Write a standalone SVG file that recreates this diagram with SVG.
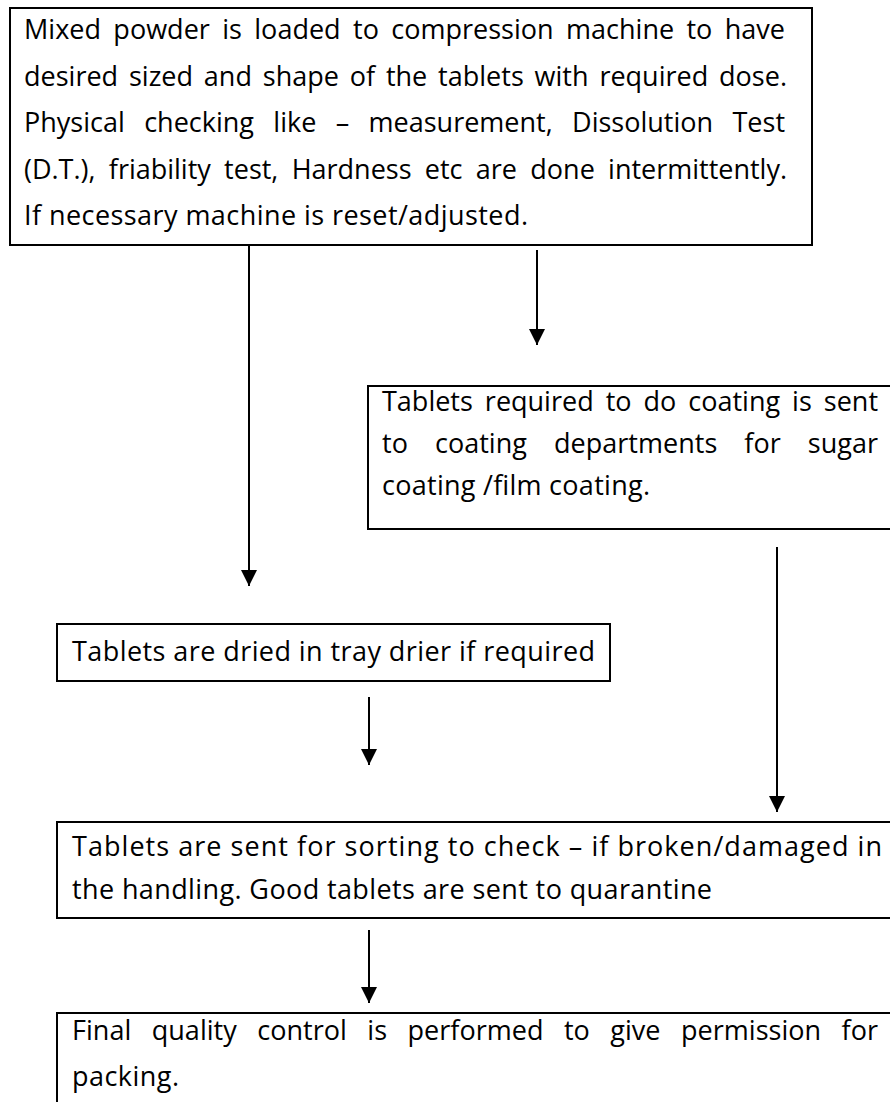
<svg xmlns="http://www.w3.org/2000/svg" width="890" height="1102" viewBox="0 0 890 1102">
  <style>
    .box { fill: #ffffff; stroke: #000000; stroke-width: 2; }
    .t { font-family: "Open Sans", "Liberation Sans", sans-serif; font-size: 27px; fill: #000000; }
    .conn { stroke: #000000; stroke-width: 2; fill: none; }
  </style>
  <defs>
    <marker id="arrow" markerWidth="8" markerHeight="8" refX="8" refY="4" orient="auto" markerUnits="strokeWidth">
      <path d="M0,0 L8,4 L0,8 Z" fill="#000000"/>
    </marker>
  </defs>
  <rect width="890" height="1102" fill="#ffffff"/>

  <g id="connectors">
    <line class="conn" x1="249" y1="245" x2="249" y2="586" marker-end="url(#arrow)"/>
    <line class="conn" x1="537" y1="250" x2="537" y2="345" marker-end="url(#arrow)"/>
    <line class="conn" x1="777" y1="547" x2="777" y2="812" marker-end="url(#arrow)"/>
    <line class="conn" x1="369" y1="697" x2="369" y2="765" marker-end="url(#arrow)"/>
    <line class="conn" x1="369" y1="930" x2="369" y2="1003" marker-end="url(#arrow)"/>
  </g>

  <g id="compression">
    <rect class="box" x="10" y="8" width="802" height="237"/>
    <text class="t" x="24" y="39" word-spacing="5.3" textLength="761" lengthAdjust="spacing">Mixed powder is loaded to compression machine to have</text>
    <text class="t" x="24" y="86" word-spacing="3.8" textLength="763" lengthAdjust="spacing">desired sized and shape of the tablets with required dose.</text>
    <text class="t" x="24" y="132" word-spacing="12.3" textLength="761" lengthAdjust="spacing">Physical checking like – measurement, Dissolution Test</text>
    <text class="t" x="24" y="179" word-spacing="6.3" textLength="763" lengthAdjust="spacing">(D.T.), friability test, Hardness etc are done intermittently.</text>
    <text class="t" x="24" y="225" textLength="504" lengthAdjust="spacing">If necessary machine is reset/adjusted.</text>
  </g>

  <g id="coating">
    <rect class="box" x="368" y="386" width="540" height="143"/>
    <text class="t" x="382" y="411" word-spacing="5" textLength="496" lengthAdjust="spacing">Tablets required to do coating is sent</text>
    <text class="t" x="382" y="453" word-spacing="20" textLength="496" lengthAdjust="spacing">to coating departments for sugar</text>
    <text class="t" x="382" y="495" textLength="268" lengthAdjust="spacing">coating /film coating.</text>
  </g>

  <g id="drying">
    <rect class="box" x="57" y="624" width="553" height="57"/>
    <text class="t" x="72" y="661" textLength="523" lengthAdjust="spacing">Tablets are dried in tray drier if required</text>
  </g>

  <g id="sorting">
    <rect class="box" x="57" y="822" width="850" height="96"/>
    <text class="t" x="72" y="856" textLength="810" lengthAdjust="spacing">Tablets are sent for sorting to check – if broken/damaged in</text>
    <text class="t" x="72" y="899" textLength="640" lengthAdjust="spacing">the handling. Good tablets are sent to quarantine</text>
  </g>

  <g id="final-qc">
    <rect class="box" x="57" y="1013" width="850" height="110"/>
    <text class="t" x="72" y="1040" word-spacing="13.4" textLength="806" lengthAdjust="spacing">Final quality control is performed to give permission for</text>
    <text class="t" x="72" y="1086" textLength="107" lengthAdjust="spacing">packing.</text>
  </g>
</svg>
